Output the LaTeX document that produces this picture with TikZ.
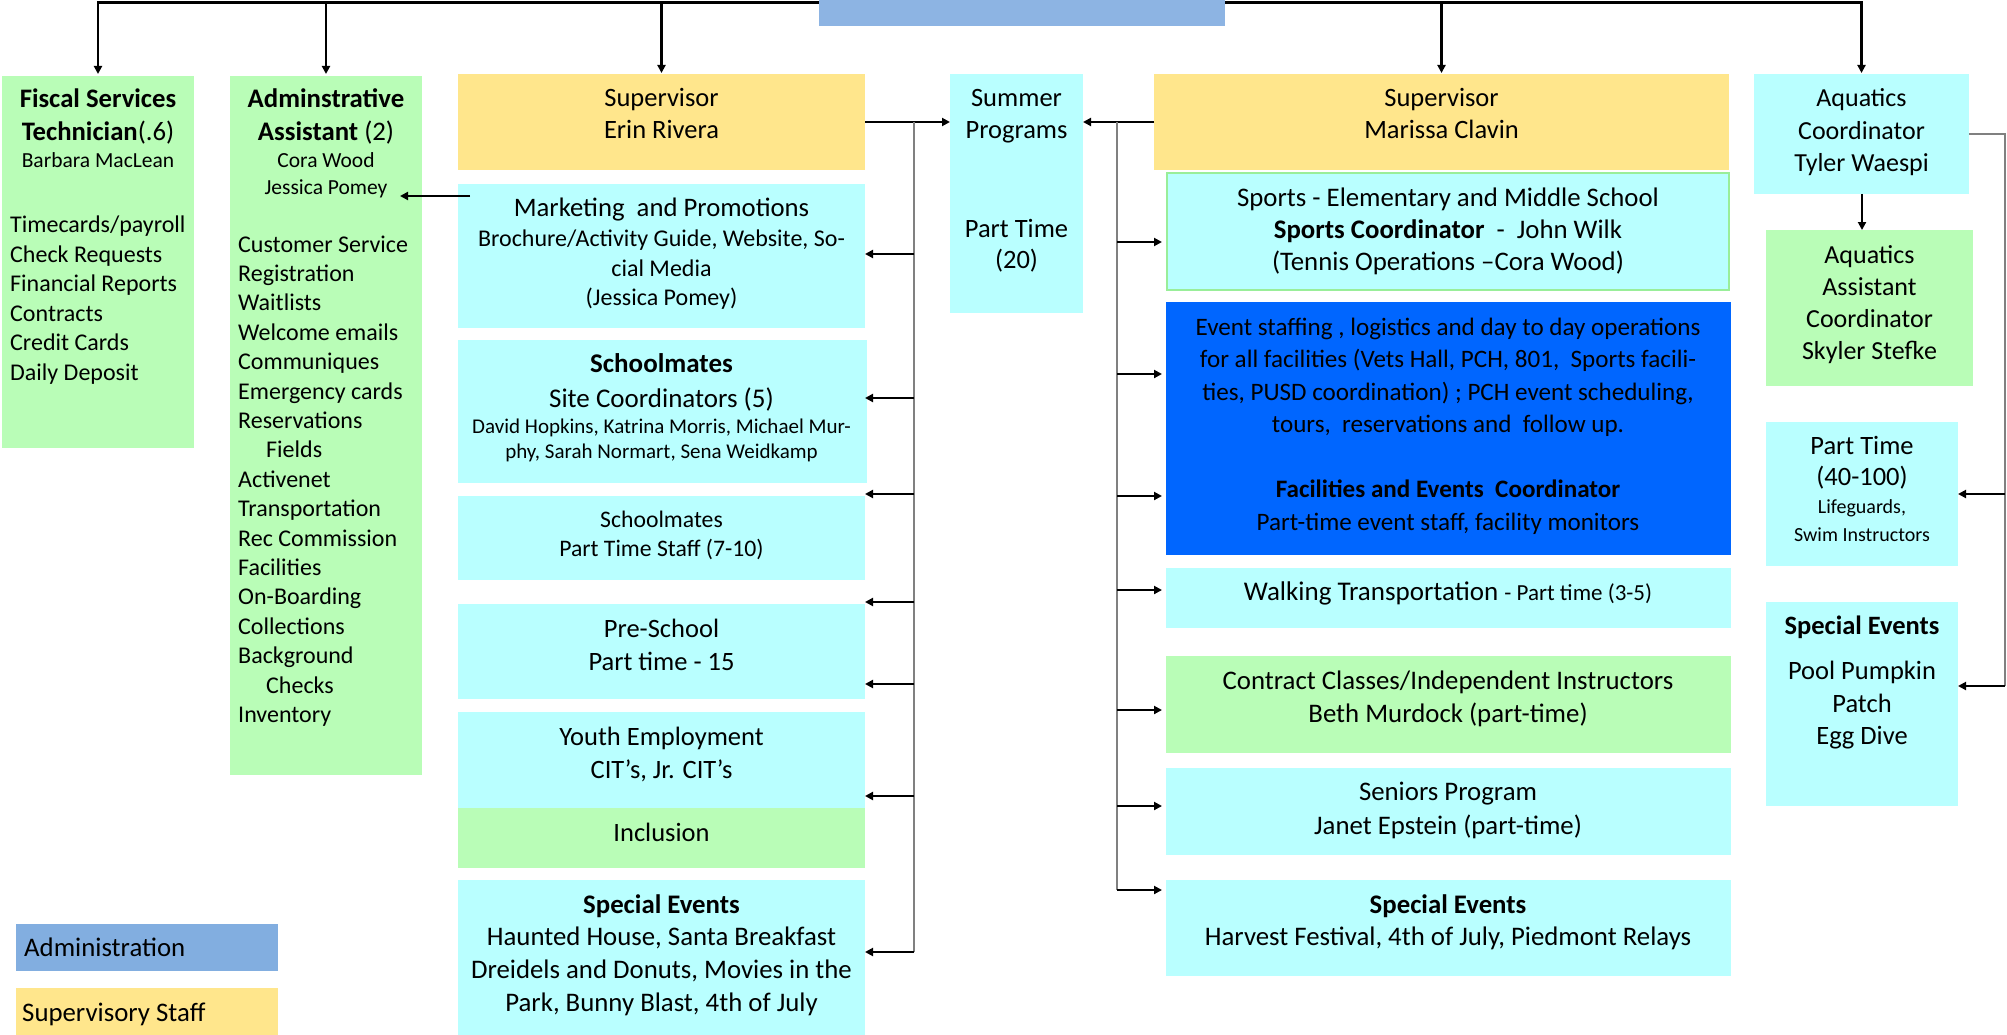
\documentclass[tikz,border=0pt]{standalone}
\usepackage{fontspec}
\setmainfont{Carlito}
\usetikzlibrary{arrows.meta}
\definecolor{adminblue}{HTML}{8DB4E3}
\definecolor{legblue}{HTML}{82AEE0}
\definecolor{supyellow}{HTML}{FFE68C}
\definecolor{lcyan}{HTML}{B9FFFF}
\definecolor{lgreen}{HTML}{B9FDB7}
\definecolor{dblue}{HTML}{0066FF}
\definecolor{busgray}{HTML}{808080}
\definecolor{sportborder}{HTML}{99EE99}
\newcommand\fs[2]{\fontsize{#1}{#2}\selectfont}
\newcommand\ctx[1]{\begin{tabular}[t]{@{}c@{}}#1\end{tabular}}
\newcommand\ltx[1]{\begin{tabular}[t]{@{}l@{}}#1\end{tabular}}
\pgfdeclarelayer{bg}
\pgfsetlayers{bg,main}
\begin{document}
\begin{tikzpicture}[x=1pt,y=-1pt,
  rbox/.style={inner sep=0,outer sep=0,anchor=north west,draw=none},
  txt/.style={inner sep=0,anchor=base},
  ltxt/.style={inner sep=0,anchor=base west},
  arr/.style={line width=2.2pt,-{Triangle[length=8pt,width=8pt]}},
  bus/.style={line width=2pt,draw=busgray},
  topline/.style={line width=2.4pt}]
\useasboundingbox (0,0) rectangle (2007,1035);

% ---------- boxes ----------
\node[rbox,fill=adminblue,minimum width=406pt,minimum height=26pt] (adm) at (819,0) {};
\node[rbox,fill=lgreen,minimum width=192pt,minimum height=372pt] (fisc) at (2,76) {};
\node[rbox,fill=lgreen,minimum width=192pt,minimum height=699pt] (asst) at (230,76) {};
\node[rbox,fill=supyellow,minimum width=407pt,minimum height=96pt] (erin) at (458,74) {};
\node[rbox,fill=lcyan,minimum width=407pt,minimum height=144pt] (mkt) at (458,184) {};
\node[rbox,fill=lcyan,minimum width=409pt,minimum height=143pt] (sm) at (458,340) {};
\node[rbox,fill=lcyan,minimum width=407pt,minimum height=84pt] (smpt) at (458,496) {};
\node[rbox,fill=lcyan,minimum width=407pt,minimum height=95pt] (pre) at (458,604) {};
\node[rbox,fill=lcyan,minimum width=407pt,minimum height=96pt] (youth) at (458,712) {};
\node[rbox,fill=lgreen,minimum width=407pt,minimum height=60pt] (incl) at (458,808) {};
\node[rbox,fill=lcyan,minimum width=407pt,minimum height=155pt] (sev) at (458,880) {};
\node[rbox,fill=lcyan,minimum width=133pt,minimum height=239pt] (summ) at (950,74) {};
\node[rbox,fill=supyellow,minimum width=575pt,minimum height=96pt] (mar) at (1154,74) {};
\node[rbox,fill=lcyan,draw=sportborder,line width=2.5pt,minimum width=562pt,minimum height=117pt] (sport) at (1167,173) {};
\node[rbox,fill=dblue,minimum width=565pt,minimum height=253pt] (evt) at (1166,302) {};
\node[rbox,fill=lcyan,minimum width=565pt,minimum height=60pt] (walk) at (1166,568) {};
\node[rbox,fill=lgreen,minimum width=565pt,minimum height=97pt] (contr) at (1166,656) {};
\node[rbox,fill=lcyan,minimum width=565pt,minimum height=87pt] (sen) at (1166,768) {};
\node[rbox,fill=lcyan,minimum width=565pt,minimum height=96pt] (msev) at (1166,880) {};
\node[rbox,fill=lcyan,minimum width=215pt,minimum height=120pt] (aqc) at (1754,74) {};
\node[rbox,fill=lgreen,minimum width=207pt,minimum height=156pt] (aqa) at (1766,230) {};
\node[rbox,fill=lcyan,minimum width=192pt,minimum height=144pt] (aqp) at (1766,422) {};
\node[rbox,fill=lcyan,minimum width=192pt,minimum height=204pt] (aqs) at (1766,602) {};
\node[rbox,fill=legblue,minimum width=262pt,minimum height=47pt] (legA) at (16,924) {};
\node[rbox,fill=supyellow,minimum width=262pt,minimum height=47pt] (legS) at (16,988) {};

% ---------- texts ----------
\node[txt,font=\fs{26.7}{33}] (fiscT) at (98,108) {\ctx{\textbf{Fiscal Services}\\\textbf{Technician}(.6)\\[-6pt]\fs{21.5}{26}Barbara MacLean}};
\node[ltxt,font=\fs{24}{29.4}] (fiscL) at (10,233) {\ltx{Timecards/payroll\\Check Requests\\Financial Reports\\Contracts\\Credit Cards\\Daily Deposit}};
\node[txt,font=\fs{26.8}{33}] (asstT) at (326,108) {\ctx{\textbf{Adminstrative}\\\textbf{Assistant} (2)\\[-6pt]\fs{21.5}{26}Cora Wood\\[-6pt]\fs{21.5}{26}Jessica Pomey}};
\node[ltxt,font=\fs{24}{29.4}] (asstL) at (238,252) {\ltx{Customer Service\\Registration\\Waitlists\\Welcome emails\\Communiques\\Emergency cards\\Reservations\\\hspace*{28pt}Fields\\Activenet\\Transportation\\Rec Commission\\Facilities\\On-Boarding\\Collections\\Background\\\hspace*{28pt}Checks\\Inventory}};

\node[txt,font=\fs{26.5}{32}] (erinT) at (661.5,107) {\ctx{Supervisor\\Erin Rivera}};
\node[txt,font=\fs{24}{29.5}] (mktT) at (661.5,217) {\ctx{{\fs{26.7}{29.5}Marketing\ \ and Promotions}\\Brochure/Activity Guide, Website, So-\\cial Media\\(Jessica Pomey)}};
\node[txt,font=\fs{27}{35}] (smT) at (661.5,372) {\ctx{\textbf{Schoolmates}\\Site Coordinators (5)\\[-9pt]\fs{21}{25}David Hopkins, Katrina Morris, Michael Mur-\\[-10pt]\fs{21}{25}phy, Sarah Normart, Sena Weidkamp}};
\node[txt,font=\fs{23.7}{29}] (smptT) at (661.5,527) {\ctx{Schoolmates\\Part Time Staff (7-10)}};
\node[txt,font=\fs{26.5}{33}] (preT) at (661.5,637) {\ctx{Pre-School\\Part time - 15}};
\node[txt,font=\fs{26.5}{33}] (youthT) at (661.5,745) {\ctx{Youth Employment\\CIT’s, Jr. CIT’s}};
\node[txt,font=\fs{26.5}{33}] (inclT) at (661.5,841) {Inclusion};
\node[txt,font=\fs{26.8}{32.7}] (sevT) at (661.5,913) {\ctx{\textbf{Special Events}\\Haunted House, Santa Breakfast\\Dreidels and Donuts, Movies in the\\Park, Bunny Blast, 4th of July}};

\node[txt,font=\fs{26.5}{32}] (summT) at (1016.5,107) {\ctx{Summer\\Programs}};
\node[txt,font=\fs{26.5}{31}] (summP) at (1016.5,237) {\ctx{Part Time\\(20)}};

\node[txt,font=\fs{26.5}{32}] (marT) at (1441.5,107) {\ctx{Supervisor\\Marissa Clavin}};
\node[txt,font=\fs{26.8}{32}] (sportT) at (1448,207) {\ctx{Sports - Elementary and Middle School\\\textbf{Sports Coordinator}\ \ -\ \ John Wilk\\(Tennis Operations –Cora Wood)}};
\node[txt,font=\fs{25.1}{32.5}] (evtT) at (1448,335) {\ctx{Event staffing , logistics and day to day operations\\for all facilities (Vets Hall, PCH, 801,\ \ Sports facili-\\ties, PUSD coordination) ; PCH event scheduling,\\tours,\ \ reservations and\ \ follow up.\\ \\\textbf{Facilities and Events\ \ Coordinator}\\Part-time event staff, facility monitors}};
\node[txt,font=\fs{27}{32}] (walkT) at (1448,600) {Walking Transportation {\fs{23}{26}- Part time (3-5)}};
\node[txt,font=\fs{26.8}{33}] (contrT) at (1448,689) {\ctx{Contract Classes/Independent Instructors\\Beth Murdock (part-time)}};
\node[txt,font=\fs{26.8}{34}] (senT) at (1448,800) {\ctx{Seniors Program\\Janet Epstein (part-time)}};
\node[txt,font=\fs{26.8}{32}] (msevT) at (1448,913) {\ctx{\textbf{Special Events}\\Harvest Festival, 4th of July, Piedmont Relays}};

\node[txt,font=\fs{26}{32.5}] (aqcT) at (1861.5,107) {\ctx{Aquatics\\Coordinator\\Tyler Waespi}};
\node[txt,font=\fs{26}{32.3}] (aqaT) at (1869.5,263) {\ctx{Aquatics\\Assistant\\Coordinator\\Skyler Stefke}};
\node[txt,font=\fs{26.5}{31}] (aqpT) at (1862,454) {\ctx{Part Time\\(40-100)\\[-3pt]\fs{20}{26}Lifeguards,\\[-3pt]\fs{20}{26}Swim Instructors}};
\node[txt,font=\fs{26.5}{32.5}] (aqsT) at (1862,634) {\ctx{\textbf{Special Events}\\[13pt]Pool Pumpkin\\Patch\\Egg Dive}};

\node[ltxt,font=\fs{26.8}{30}] (legAT) at (24,956) {Administration};
\node[ltxt,font=\fs{26.8}{30}] (legST) at (22,1021) {Supervisory Staff};

% ---------- connectors ----------
\coordinate (busy) at (0,2.5);
\begin{pgfonlayer}{bg}
\draw[topline] (fisc.north |- busy) -- (aqc.north |- busy);
\draw[arr,shorten >=2pt] (adm.west |- busy) -| (fisc.north);
\draw[arr,shorten >=2pt] (adm.west |- busy) -| (asst.north);
\draw[arr,shorten >=1pt] (adm.west |- busy) -| (erin.north);
\draw[arr,shorten >=1pt] (adm.east |- busy) -| (mar.north);
\draw[arr,shorten >=1pt] (adm.east |- busy) -| (aqc.north);
\end{pgfonlayer}

\draw[arr] (erin.east) -- (summ.west |- erin.east);
\draw[arr] (mar.west) -- (summ.east |- mar.west);

\coordinate (eb) at (914,122);
\draw[bus] (eb) -- (eb |- 0,952);
\foreach \yy in {254,398,494,602,684,796,952}
  \draw[arr] (eb |- 0,\yy) -- (mkt.east |- 0,\yy);

\coordinate (mb) at (1117,122);
\draw[bus] (mb) -- (mb |- 0,890);
\foreach \yy in {242,374,496,590,710,806,890}
  \draw[arr] (mb |- 0,\yy) -- ([xshift=-4pt]evt.west |- 0,\yy);

\draw[arr] (aqc.south -| 1862,0) -- (aqa.north -| 1862,0);
\coordinate (ab) at (2005,134);
\draw[bus] (aqc.east |- ab) -- (ab) -- (ab |- 0,686);
\draw[arr] (ab |- 0,494) -- (aqp.east |- 0,494);
\draw[arr] (ab |- 0,686) -- (aqs.east |- 0,686);

\coordinate (mk) at (470,196);
\coordinate (jp) at (400,196);
\draw[arr] (mk) -- (jp);
\end{tikzpicture}
\end{document}
